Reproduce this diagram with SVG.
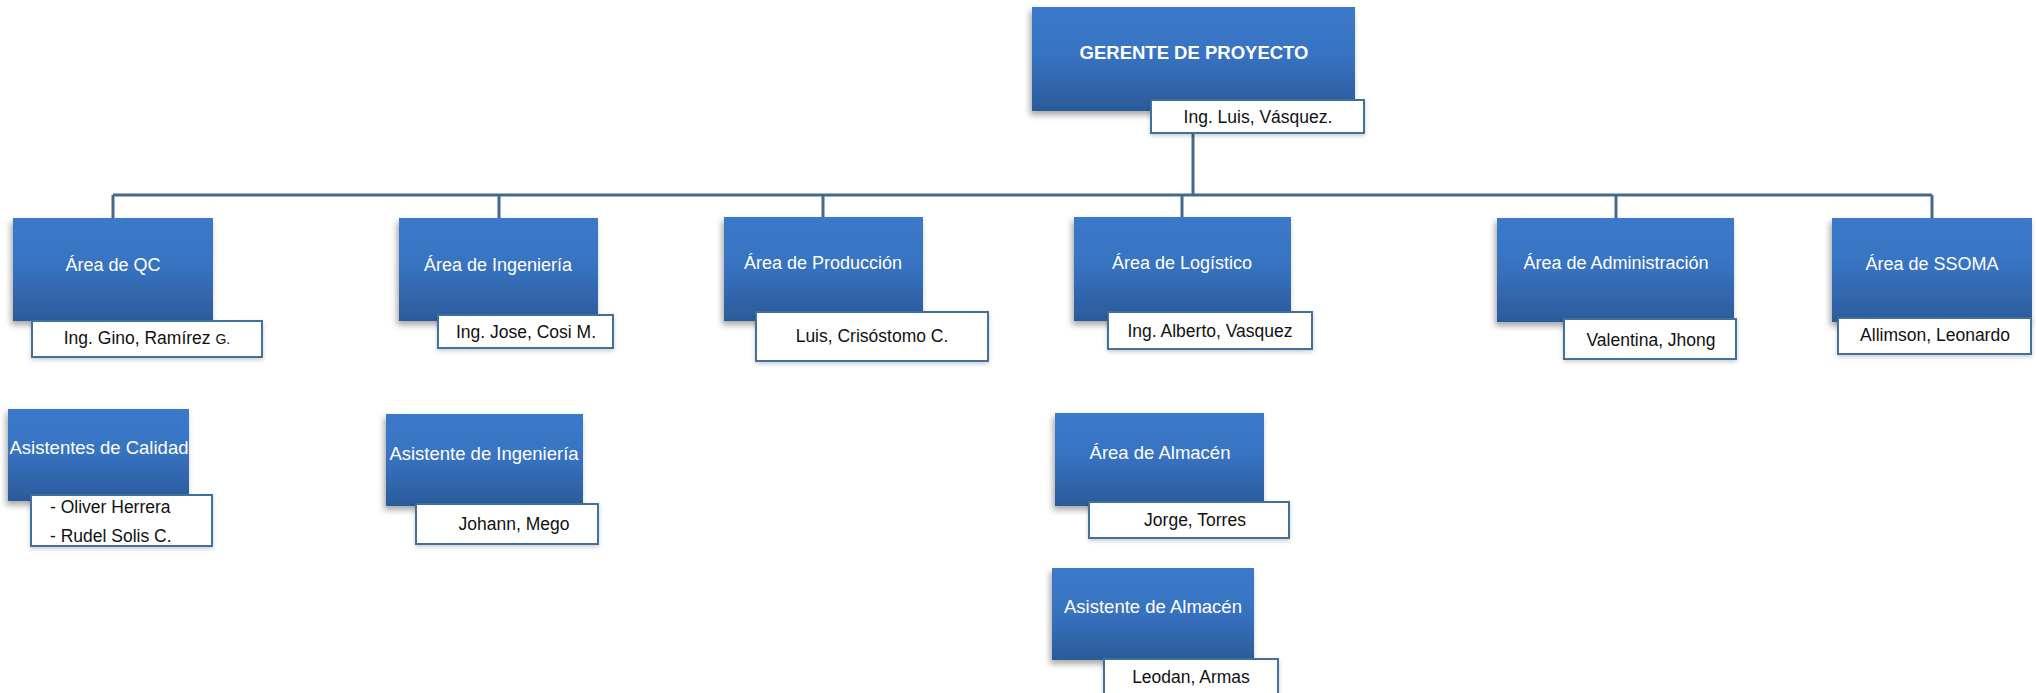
<svg xmlns="http://www.w3.org/2000/svg" width="2036" height="693" viewBox="0 0 2036 693">
  <defs>
    <linearGradient id="boxFill" x1="0" y1="0" x2="0" y2="1">
      <stop offset="0" stop-color="#3b79c9"/>
      <stop offset="0.45" stop-color="#3873c2"/>
      <stop offset="1" stop-color="#2b5b9a"/>
    </linearGradient>
    <filter id="shadow" x="-10%" y="-10%" width="120%" height="130%">
      <feDropShadow dx="-2" dy="4" stdDeviation="3" flood-color="#000" flood-opacity="0.35"/>
    </filter>
    <filter id="softShadow" x="-10%" y="-10%" width="120%" height="140%">
      <feDropShadow dx="0" dy="2" stdDeviation="2" flood-color="#000" flood-opacity="0.2"/>
    </filter>
  </defs>
  <style>
    .box { fill: url(#boxFill); filter: url(#shadow); }
    .tag { fill: #ffffff; stroke: #41719c; stroke-width: 2; filter: url(#softShadow); }
    .title { font-family: "Liberation Sans", Arial, sans-serif; font-size: 18px; fill: #ffffff; text-anchor: middle; }
    .title2 { font-family: "Liberation Sans", Arial, sans-serif; font-size: 18.5px; fill: #ffffff; text-anchor: middle; }
    .head { font-family: "Liberation Sans", Arial, sans-serif; font-size: 18.5px; font-weight: bold; fill: #ffffff; text-anchor: middle; }
    .name { font-family: "Liberation Sans", Arial, sans-serif; font-size: 17.5px; fill: #111111; text-anchor: middle; }
    .left { text-anchor: start; }
    .link { fill: none; stroke: #45688d; stroke-width: 3; }
  </style>

  <rect width="2036" height="693" fill="#ffffff"/>

  <!-- connectors -->
  <g id="connectors">
    <path class="link" d="M1193 133 V195"/>
    <path class="link" d="M113 195 H1932"/>
    <path class="link" d="M113 195 V218"/>
    <path class="link" d="M499 195 V218"/>
    <path class="link" d="M823 195 V217"/>
    <path class="link" d="M1182 195 V217"/>
    <path class="link" d="M1616 195 V218"/>
    <path class="link" d="M1932 195 V218"/>
  </g>

  <!-- project manager -->
  <g id="gerente">
    <rect class="box" x="1032" y="7" width="323" height="104"/>
    <text class="head" x="1194" y="59">GERENTE DE PROYECTO</text>
    <rect class="tag" x="1151" y="100" width="213" height="33"/>
    <text class="name" x="1258" y="123">Ing. Luis, Vásquez.</text>
  </g>

  <!-- first level areas -->
  <g id="area-qc">
    <rect class="box" x="13" y="218" width="200" height="103"/>
    <text class="title" x="113" y="271">Área de QC</text>
    <rect class="tag" x="32" y="321" width="230" height="36"/>
    <text class="name" x="147" y="344">Ing. Gino, Ramírez <tspan font-size="14">G.</tspan></text>
  </g>

  <g id="area-ingenieria">
    <rect class="box" x="399" y="218" width="199" height="103"/>
    <text class="title" x="498" y="271">Área de Ingeniería</text>
    <rect class="tag" x="438" y="315" width="175" height="33"/>
    <text class="name" x="526" y="338">Ing. Jose, Cosi M.</text>
  </g>

  <g id="area-produccion">
    <rect class="box" x="724" y="217" width="199" height="104"/>
    <text class="title" x="823" y="269">Área de Producción</text>
    <rect class="tag" x="756" y="312" width="232" height="49"/>
    <text class="name" x="872" y="342">Luis, Crisóstomo C.</text>
  </g>

  <g id="area-logistico">
    <rect class="box" x="1074" y="217" width="217" height="104"/>
    <text class="title" x="1182" y="269">Área de Logístico</text>
    <rect class="tag" x="1108" y="312" width="204" height="37"/>
    <text class="name" x="1210" y="337">Ing. Alberto, Vasquez</text>
  </g>

  <g id="area-administracion">
    <rect class="box" x="1497" y="218" width="237" height="104"/>
    <text class="title" x="1616" y="269">Área de Administración</text>
    <rect class="tag" x="1564" y="319" width="172" height="40"/>
    <text class="name" x="1651" y="346">Valentina, Jhong</text>
  </g>

  <g id="area-ssoma">
    <rect class="box" x="1832" y="218" width="200" height="104"/>
    <text class="title" x="1932" y="270">Área de SSOMA</text>
    <rect class="tag" x="1838" y="318" width="193" height="36"/>
    <text class="name" x="1935" y="341">Allimson, Leonardo</text>
  </g>

  <!-- assistants -->
  <g id="asistentes-calidad">
    <rect class="box" x="8" y="409" width="181" height="92"/>
    <text class="title2" x="99" y="454">Asistentes de Calidad</text>
    <rect class="tag" x="31" y="495" width="181" height="51"/>
    <text class="name left" x="50" y="513">- Oliver Herrera</text>
    <text class="name left" x="50" y="542">- Rudel Solis C.</text>
  </g>

  <g id="asistente-ingenieria">
    <rect class="box" x="386" y="414" width="197" height="92"/>
    <text class="title2" x="484" y="460">Asistente de Ingeniería</text>
    <rect class="tag" x="416" y="504" width="182" height="40"/>
    <text class="name" x="514" y="530">Johann, Mego</text>
  </g>

  <g id="area-almacen">
    <rect class="box" x="1055" y="413" width="209" height="93"/>
    <text class="title2" x="1160" y="459">Área de Almacén</text>
    <rect class="tag" x="1089" y="502" width="200" height="36"/>
    <text class="name" x="1195" y="526">Jorge, Torres</text>
  </g>

  <g id="asistente-almacen">
    <rect class="box" x="1052" y="568" width="202" height="92"/>
    <text class="title2" x="1153" y="613">Asistente de Almacén</text>
    <rect class="tag" x="1104" y="659" width="174" height="36"/>
    <text class="name" x="1191" y="683">Leodan, Armas</text>
  </g>
</svg>
